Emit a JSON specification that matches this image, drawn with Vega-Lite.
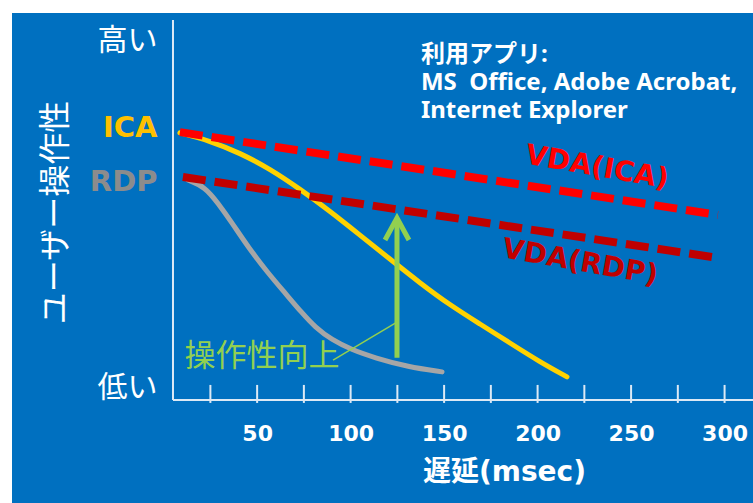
{
  "$schema": "https://vega.github.io/schema/vega-lite/v6.json",
  "width": 741,
  "height": 490,
  "autosize": {"type": "none"},
  "padding": {"left": 12, "top": 13, "right": 0, "bottom": 0},
  "background": "#ffffff",
  "config": {"view": {"fill": "#0070c0", "stroke": null}},
  "datasets": {
    "curves": [
      {"series": "ICA", "latency": 8.7, "usability": 70.3},
      {"series": "ICA", "latency": 24.8, "usability": 68.2},
      {"series": "ICA", "latency": 40.8, "usability": 65.0},
      {"series": "ICA", "latency": 56.9, "usability": 60.8},
      {"series": "ICA", "latency": 72.9, "usability": 55.5},
      {"series": "ICA", "latency": 89.0, "usability": 49.7},
      {"series": "ICA", "latency": 105.0, "usability": 43.4},
      {"series": "ICA", "latency": 121.0, "usability": 37.1},
      {"series": "ICA", "latency": 137.1, "usability": 30.8},
      {"series": "ICA", "latency": 153.1, "usability": 25.0},
      {"series": "ICA", "latency": 169.2, "usability": 20.0},
      {"series": "ICA", "latency": 185.2, "usability": 15.0},
      {"series": "ICA", "latency": 201.3, "usability": 10.0},
      {"series": "ICA", "latency": 215.7, "usability": 6.1},
      {"series": "RDP", "latency": 13.0, "usability": 57.9},
      {"series": "RDP", "latency": 22.1, "usability": 56.1},
      {"series": "RDP", "latency": 29.1, "usability": 51.8},
      {"series": "RDP", "latency": 36.6, "usability": 46.6},
      {"series": "RDP", "latency": 45.1, "usability": 40.3},
      {"series": "RDP", "latency": 55.8, "usability": 33.4},
      {"series": "RDP", "latency": 64.9, "usability": 28.2},
      {"series": "RDP", "latency": 74.0, "usability": 22.9},
      {"series": "RDP", "latency": 80.9, "usability": 19.2},
      {"series": "RDP", "latency": 90.0, "usability": 15.8},
      {"series": "RDP", "latency": 100.7, "usability": 13.2},
      {"series": "RDP", "latency": 113.0, "usability": 11.1},
      {"series": "RDP", "latency": 130.7, "usability": 8.7},
      {"series": "RDP", "latency": 148.9, "usability": 7.4}
    ],
    "vda": [
      {"series": "VDA(ICA)", "latency": 8.7, "usability": 70.5},
      {"series": "VDA(ICA)", "latency": 296.4, "usability": 48.7},
      {"series": "VDA(RDP)", "latency": 10.3, "usability": 58.7},
      {"series": "VDA(RDP)", "latency": 293.8, "usability": 37.6}
    ],
    "vda_labels": [
      {"series": "VDA(ICA)", "latency": 231.7, "usability": 61.1},
      {"series": "VDA(RDP)", "latency": 222.6, "usability": 36.1}
    ],
    "arrow": [
      {"part": "shaft", "latency": 124.8, "usability": 11.1},
      {"part": "shaft", "latency": 124.8, "usability": 47.9},
      {"part": "head", "latency": 118.4, "usability": 42.1},
      {"part": "head", "latency": 124.8, "usability": 47.9},
      {"part": "head", "latency": 131.2, "usability": 42.1},
      {"part": "leader", "latency": 90.6, "usability": 10.5},
      {"part": "leader", "latency": 124.8, "usability": 20.5}
    ],
    "xticks": [
      {"latency": 25}, {"latency": 50}, {"latency": 75}, {"latency": 100},
      {"latency": 125}, {"latency": 150}, {"latency": 175}, {"latency": 200},
      {"latency": 225}, {"latency": 250}, {"latency": 275}, {"latency": 300}
    ],
    "improve": [
      {"label": "操作性向上", "latency": 52.6, "usability": 11.3}
    ],
    "apps": [
      {"label": "利用アプリ:\nMS\u00a0 Office, Adobe Acrobat,\nInternet Explorer", "latency": 137.6, "usability": 93.9}
    ]
  },
  "layer": [
    {
      "data": {"name": "curves"},
      "mark": {"type": "line", "strokeWidth": 5, "interpolate": "basis", "strokeCap": "round"},
      "encoding": {
        "x": {
          "field": "latency",
          "type": "quantitative",
          "scale": {"domain": [-81.1, 315.2], "nice": false, "zero": false},
          "axis": {
            "orient": "bottom",
            "offset": -103,
            "zindex": 1,
            "values": [50, 100, 150, 200, 250, 300],
            "domain": false,
            "grid": false,
            "ticks": false,
            "labelColor": "#ffffff",
            "labelFont": "DejaVu Sans",
            "labelFontWeight": "bold",
            "labelFontSize": 22,
            "labelBaseline": "middle",
            "labelPadding": 33,
            "labelOverlap": false,
            "labelFlush": false,
            "title": "遅延(msec)",
            "titleColor": "#ffffff",
            "titleFont": "DejaVu Sans, Noto Sans CJK JP",
            "titleFontWeight": "bold",
            "titleFontSize": 28,
            "titleX": 492,
            "titleY": 72,
            "titleAlign": "center",
            "titleBaseline": "middle"
          }
        },
        "y": {
          "field": "usability",
          "type": "quantitative",
          "scale": {"domain": [-27.1, 101.84], "nice": false, "zero": false},
          "axis": {
            "orient": "left",
            "offset": -161,
            "zindex": 1,
            "values": [3.2, 57.6, 71.8, 94.7],
            "labelExpr": "datum.value > 90 ? '高い' : datum.value > 65 ? 'ICA' : datum.value > 50 ? 'RDP' : '低い'",
            "domain": false,
            "grid": false,
            "ticks": false,
            "labelPadding": 16,
            "labelBaseline": "middle",
            "labelColor": {
              "condition": [
                {"test": "datum.value > 65 && datum.value < 90", "value": "#ffc000"},
                {"test": "datum.value > 50 && datum.value < 65", "value": "#8c8c8c"}
              ],
              "value": "#ffffff"
            },
            "labelFont": {
              "condition": {"test": "datum.value > 50 && datum.value < 90", "value": "DejaVu Sans"},
              "value": "Noto Sans CJK JP"
            },
            "labelFontWeight": {
              "condition": {"test": "datum.value > 50 && datum.value < 90", "value": "bold"},
              "value": "normal"
            },
            "labelFontSize": {
              "condition": {"test": "datum.value > 50 && datum.value < 90", "value": 29},
              "value": 30
            },
            "title": "ユーザー操作性",
            "titleColor": "#ffffff",
            "titleFont": "Noto Sans CJK JP",
            "titleFontWeight": "normal",
            "titleFontSize": 32,
            "titleAngle": -90,
            "titleX": -118,
            "titleY": 199,
            "titleAlign": "center",
            "titleBaseline": "middle"
          }
        },
        "color": {
          "field": "series",
          "type": "nominal",
          "scale": {"domain": ["ICA", "RDP", "VDA(ICA)", "VDA(RDP)"], "range": ["#ffd200", "#a6a6a6", "#ff0000", "#c00000"]},
          "legend": null
        }
      }
    },
    {
      "data": {"name": "improve"},
      "mark": {"type": "rule", "color": "#dce9f5", "strokeWidth": 2},
      "encoding": {
        "x": {"datum": 5, "type": "quantitative"},
        "y": {"datum": 0, "type": "quantitative"},
        "y2": {"datum": 100}
      }
    },
    {
      "data": {"name": "improve"},
      "mark": {"type": "rule", "color": "#dce9f5", "strokeWidth": 2},
      "encoding": {
        "x": {"datum": 5, "type": "quantitative"},
        "x2": {"datum": 315.2},
        "y": {"datum": 0, "type": "quantitative"}
      }
    },
    {
      "data": {"name": "xticks"},
      "mark": {"type": "tick", "orient": "vertical", "color": "#dce9f5", "thickness": 2, "size": 18, "opacity": 1},
      "encoding": {
        "x": {"field": "latency", "type": "quantitative"},
        "y": {"datum": 1.6, "type": "quantitative"}
      }
    },
    {
      "data": {"name": "arrow"},
      "transform": [{"filter": "datum.part === 'leader'"}],
      "mark": {"type": "line", "color": "#92d050", "strokeWidth": 1.5},
      "encoding": {
        "x": {"field": "latency", "type": "quantitative"},
        "y": {"field": "usability", "type": "quantitative"}
      }
    },
    {
      "data": {"name": "arrow"},
      "transform": [{"filter": "datum.part !== 'leader'"}],
      "mark": {"type": "line", "color": "#92d050", "strokeWidth": 5, "strokeJoin": "miter"},
      "encoding": {
        "x": {"field": "latency", "type": "quantitative"},
        "y": {"field": "usability", "type": "quantitative"},
        "detail": {"field": "part", "type": "nominal"}
      }
    },
    {
      "data": {"name": "vda"},
      "mark": {"type": "line", "strokeWidth": 8, "strokeDash": [23, 9], "strokeCap": "butt"},
      "encoding": {
        "x": {"field": "latency", "type": "quantitative"},
        "y": {"field": "usability", "type": "quantitative"},
        "color": {"field": "series", "type": "nominal", "legend": null}
      }
    },
    {
      "data": {"name": "vda_labels"},
      "mark": {"type": "text", "font": "DejaVu Sans", "fontWeight": "bold", "fontSize": 28, "angle": 10, "align": "center", "baseline": "middle"},
      "encoding": {
        "x": {"field": "latency", "type": "quantitative"},
        "y": {"field": "usability", "type": "quantitative"},
        "text": {"field": "series"},
        "color": {"field": "series", "type": "nominal", "legend": null}
      }
    },
    {
      "data": {"name": "improve"},
      "mark": {"type": "text", "font": "Noto Sans CJK JP", "fontSize": 31, "color": "#92d050", "align": "center", "baseline": "middle"},
      "encoding": {
        "x": {"field": "latency", "type": "quantitative"},
        "y": {"field": "usability", "type": "quantitative"},
        "text": {"field": "label"}
      }
    },
    {
      "data": {"name": "apps"},
      "mark": {"type": "text", "font": "Noto Sans, Noto Sans CJK JP", "fontWeight": "bold", "fontSize": 24, "color": "#ffffff", "align": "left", "baseline": "top", "lineBreak": "\n", "lineHeight": 28},
      "encoding": {
        "x": {"field": "latency", "type": "quantitative"},
        "y": {"field": "usability", "type": "quantitative"},
        "text": {"field": "label"}
      }
    }
  ]
}
